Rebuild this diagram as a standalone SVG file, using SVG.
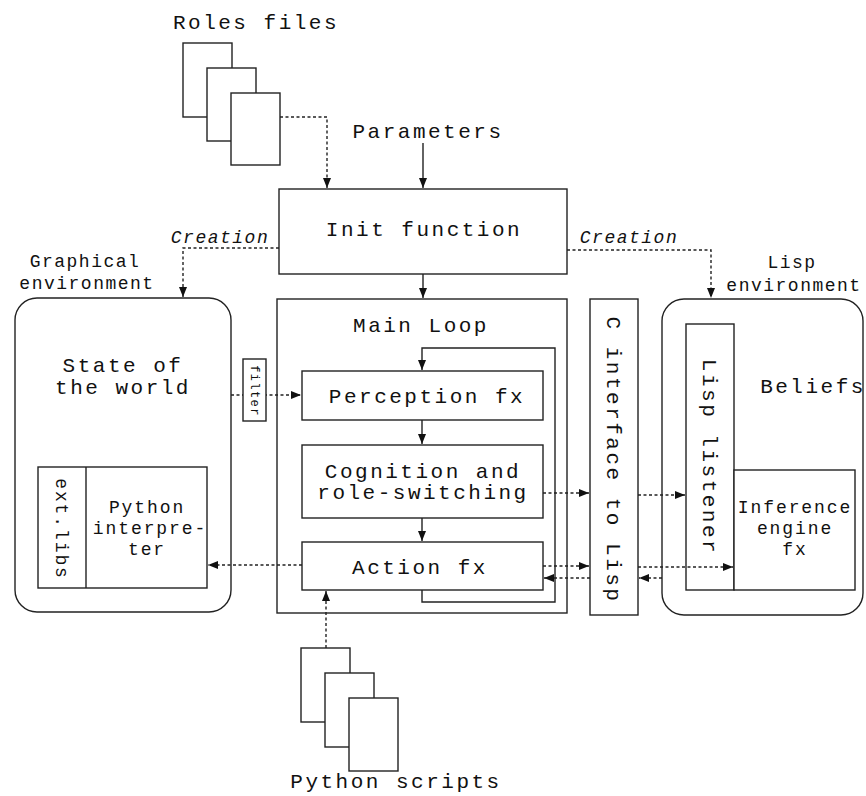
<svg xmlns="http://www.w3.org/2000/svg" width="866" height="796" viewBox="0 0 866 796">
<style>
.box{fill:#fff;stroke:#222;stroke-width:1.4}
.ln{fill:none;stroke:#222;stroke-width:1.4}
.dash{fill:none;stroke:#222;stroke-width:1.4;stroke-dasharray:3 2.5}
.t{font-family:"Liberation Mono","DejaVu Sans Mono",monospace;fill:#111;text-anchor:middle}
.big{font-size:21px;letter-spacing:2.5px}
.mid{font-size:18px;letter-spacing:1.9px}
.sm{font-size:18px;letter-spacing:1.5px}
.it{font-style:italic}
.tiny{font-size:12px;letter-spacing:1.4px}
</style>
<defs>
<marker id="ah" markerUnits="userSpaceOnUse" markerWidth="11" markerHeight="8" refX="10" refY="4" orient="auto">
<path d="M0,0 L10,4 L0,8 z" fill="#111"/>
</marker>
</defs>
<rect width="866" height="796" fill="#fff"/>

<g id="roles-files">
<rect class="box" x="183" y="43" width="49" height="74"/>
<rect class="box" x="207" y="68" width="49" height="73"/>
<rect class="box" x="231" y="93" width="49" height="72"/>
<text class="t big" x="256" y="29">Roles files</text>
</g>

<g id="parameters">
<text class="t big" x="428" y="138">Parameters</text>
</g>

<g id="init-function">
<rect class="box" x="279" y="189" width="288" height="85"/>
<text class="t big" x="424" y="236">Init function</text>
</g>

<g id="graphical-environment">
<text class="t sm" x="85" y="267">Graphical</text>
<text class="t sm" x="87" y="289">environment</text>
<rect class="box" x="15" y="298" width="216" height="314" rx="22"/>
<text class="t big" x="123" y="372">State of</text>
<text class="t big" x="123" y="394">the world</text>
</g>

<g id="python-interpreter">
<rect class="box" x="38" y="467" width="169" height="121"/>
<line class="ln" x1="86" y1="467" x2="86" y2="588"/>
<text class="t mid" x="147" y="513">Python</text>
<text class="t mid" x="150" y="534">interpre-</text>
<text class="t mid" x="147" y="555">ter</text>
</g>

<g id="ext-libs">
<text class="t mid" transform="translate(56,529) rotate(90)">ext.libs</text>
</g>

<g id="main-loop">
<rect class="box" x="277" y="299" width="290" height="314"/>
<text class="t big" x="421" y="332">Main Loop</text>
</g>

<g id="perception">
<rect class="box" x="302" y="371" width="241" height="49"/>
<text class="t big" x="427" y="403">Perception fx</text>
</g>

<g id="cognition">
<rect class="box" x="302" y="445" width="241" height="73"/>
<text class="t big" x="423" y="478">Cognition and</text>
<text class="t big" x="423" y="499">role-switching</text>
</g>

<g id="action">
<rect class="box" x="302" y="542" width="241" height="48"/>
<text class="t big" x="420" y="574">Action fx</text>
</g>

<g id="c-interface">
<rect class="box" x="590" y="299" width="48" height="316"/>
<text class="t big" transform="translate(607,460) rotate(90)">C interface to Lisp</text>
</g>

<g id="lisp-environment">
<text class="t sm" x="792" y="268">Lisp</text>
<text class="t sm" x="794" y="291">environment</text>
<rect class="box" x="662" y="299" width="201" height="316" rx="22"/>
<text class="t big" x="813" y="393">Beliefs</text>
</g>

<g id="lisp-listener">
<rect class="box" x="686" y="324" width="48" height="266"/>
<text class="t big" transform="translate(703,457) rotate(90)">Lisp listener</text>
</g>

<g id="inference-engine">
<rect class="box" x="734" y="470" width="121" height="120"/>
<text class="t mid" x="795" y="513">Inference</text>
<text class="t mid" x="795" y="534">engine</text>
<text class="t mid" x="795" y="555">fx</text>
</g>

<g id="python-scripts">
<rect class="box" x="301" y="648" width="49" height="74"/>
<rect class="box" x="325" y="673" width="49" height="74"/>
<rect class="box" x="349" y="698" width="49" height="73"/>
<text class="t big" x="396" y="788">Python scripts</text>
</g>

<g id="connectors">
<path class="dash" d="M280,117 H327 V188" marker-end="url(#ah)"/>
<path class="ln" d="M423,143 V188" marker-end="url(#ah)"/>
<path class="dash" d="M279,248 H183 V297" marker-end="url(#ah)"/>
<text class="t sm it" x="220" y="243">Creation</text>
<path class="dash" d="M567,250 H711 V298" marker-end="url(#ah)"/>
<text class="t sm it" x="629" y="243">Creation</text>
<path class="ln" d="M423,274 V298" marker-end="url(#ah)"/>
<path class="dash" d="M231,395 H301" marker-end="url(#ah)"/>
<path class="ln" d="M422,590 V602 H555 V348 H422 V370" marker-end="url(#ah)"/>
<path class="ln" d="M422,420 V444" marker-end="url(#ah)"/>
<path class="ln" d="M422,518 V541" marker-end="url(#ah)"/>
<path class="dash" d="M543,493 H589" marker-end="url(#ah)"/>
<path class="dash" d="M543,566 H589" marker-end="url(#ah)"/>
<path class="dash" d="M590,578 H544" marker-end="url(#ah)"/>
<path class="dash" d="M302,565 H208" marker-end="url(#ah)"/>
<path class="dash" d="M326,648 V591" marker-end="url(#ah)"/>
<path class="dash" d="M638,495 H685" marker-end="url(#ah)"/>
<path class="dash" d="M638,567 H733" marker-end="url(#ah)"/>
<path class="dash" d="M662,578 H639" marker-end="url(#ah)"/>
</g>

<g id="filter">
<rect class="box" x="243" y="359" width="23" height="62"/>
<text class="t tiny" transform="translate(251,391) rotate(90)">filter</text>
</g>
</svg>
